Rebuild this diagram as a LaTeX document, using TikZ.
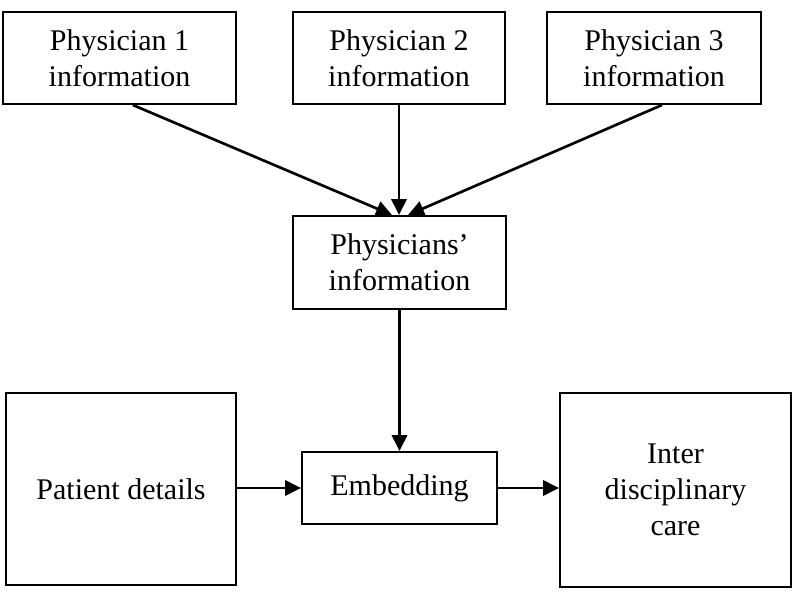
\documentclass[tikz,border=0pt]{standalone}
\usepackage{fontspec}
\setmainfont{Liberation Serif}
\usetikzlibrary{arrows.meta,positioning}

\begin{document}
\begin{tikzpicture}[x=0.75pt, y=-0.75pt,
  box/.style={draw, line width=1.5pt, align=center, inner sep=0pt, font=\fontsize{22.5}{27}\selectfont},
  flow/.style={line width=2pt, -{Triangle[length=12pt,width=11.5pt]}}]
\useasboundingbox (0,0) rectangle (811,592);
% boxes: \stage{name}{cx}{cy}{w}{h}{text}, all in image pixels
\newcommand{\stage}[6]{\node[box, minimum width=#4*0.75pt, minimum height=#5*0.75pt] (#1) at (#2,#3) {#6};}
\stage{phys1}{119.5}{58}{233}{92}{Physician 1\\information}
\stage{phys2}{399}{58}{212}{92}{Physician 2\\information}
\stage{phys3}{654}{58}{214}{92}{Physician 3\\information}
\stage{physinfo}{399.5}{262.5}{213}{93}{Physicians'\\information}
\stage{patient}{121}{489}{230}{192}{Patient details}
\stage{embed}{399.5}{488}{195}{72}{Embedding}
\stage{care}{675.5}{490}{231}{194}{Inter\\disciplinary\\care}
% connectors
\draw[flow] ([xshift=10pt]phys1.south) -- ([xshift=-5.6pt]physinfo.north);
\draw[flow] (phys2.south) -- (phys2.south |- physinfo.north);
\draw[flow] ([xshift=6pt]phys3.south) -- ([xshift=6.4pt]physinfo.north);
\draw[flow] (physinfo) -- (embed);
\draw[flow] (patient.east |- embed) -- (embed.west);
\draw[flow] (embed.east) -- (embed -| care.west);
\end{tikzpicture}
\end{document}
